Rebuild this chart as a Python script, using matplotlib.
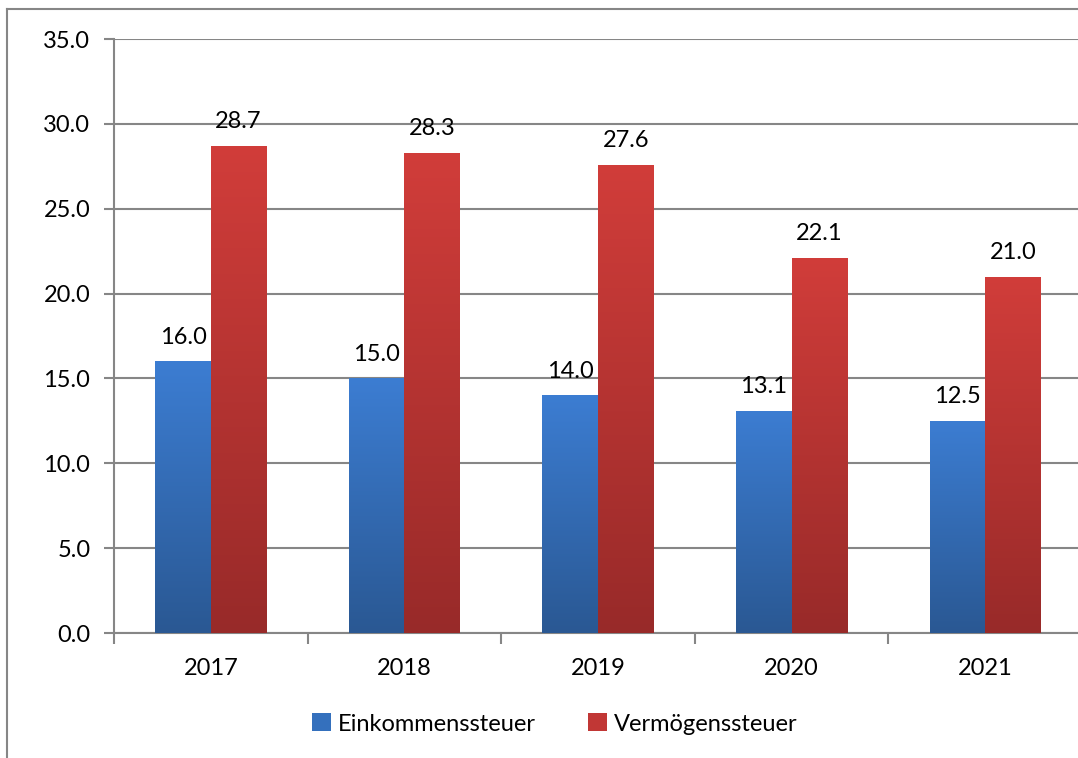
import matplotlib.pyplot as plt
import numpy as np
from matplotlib.colors import LinearSegmentedColormap
from matplotlib.lines import Line2D
from matplotlib.patches import Patch

plt.rcParams['font.family'] = ['Lato', 'DejaVu Sans']

years = ['2017', '2018', '2019', '2020', '2021']
einkommen = [16.0, 15.0, 14.0, 13.1, 12.5]
vermoegen = [28.7, 28.3, 27.6, 22.1, 21.0]

grid_col = '#868686'
blue_top, blue_bot = '#3c7dd2', '#2a5893'
red_top, red_bot = '#d13d3a', '#982a29'

fig = plt.figure(figsize=(10.78, 7.58), dpi=100)
ax = fig.add_axes([114 / 1078, 1 - 633 / 758, 968 / 1078, 594 / 758])

x = np.arange(len(years))
w = 0.287


def gradient_bars(xpos, vals, top, bot):
    bars = ax.bar(xpos, vals, w, color='none', zorder=3)
    cmap = LinearSegmentedColormap.from_list('g', [bot, top])
    grad = np.linspace(0, 1, 256).reshape(-1, 1)
    for b in bars:
        x0, h = b.get_x(), b.get_height()
        # stretch gradient to each bar's full height
        im = ax.imshow(grad, cmap=cmap, origin='lower', aspect='auto',
                       extent=(x0, x0 + b.get_width(), 0, h), zorder=3)
        im.set_clip_path(b)
    return bars


b1 = gradient_bars(x - w / 2, einkommen, blue_top, blue_bot)
b2 = gradient_bars(x + w / 2, vermoegen, red_top, red_bot)

for bars, vals in [(b1, einkommen), (b2, vermoegen)]:
    for b, v in zip(bars, vals):
        ax.annotate(f'{v:.1f}', (b.get_x() + b.get_width() / 2, v),
                    xytext=(0, 10), textcoords='offset points',
                    ha='center', va='bottom', fontsize=17, color='black')

ax.set_xlim(-0.5, len(years) - 0.5)
ax.set_ylim(0, 35)
ax.set_yticks(np.arange(0, 35.1, 5))
ax.set_yticklabels([f'{v:.1f}' for v in np.arange(0, 35.1, 5)])
ax.yaxis.grid(True, color=grid_col, linewidth=1.5, zorder=0)
ax.set_axisbelow(True)

ax.set_xticks(x)
ax.set_xticklabels(years)
ax.set_xticks(np.arange(-0.5, len(years)), minor=True)
ax.tick_params(axis='x', which='major', length=0, pad=18, labelsize=17)
ax.tick_params(axis='x', which='minor', length=8, width=1.5, color=grid_col)
ax.tick_params(axis='y', length=7, width=1.5, color=grid_col, pad=10,
               labelsize=17)

for s in ['top', 'right']:
    ax.spines[s].set_visible(False)
for s in ['left', 'bottom']:
    ax.spines[s].set_color(grid_col)
    ax.spines[s].set_linewidth(1.5)

handles = [Patch(facecolor='#3470bd', label='Einkommenssteuer'),
           Patch(facecolor='#c13735', label='Vermögenssteuer')]
fig.legend(handles=handles, loc='center', bbox_to_anchor=(555 / 1078, 1 - 724 / 758),
           ncol=2, frameon=False, fontsize=17, handlelength=0.8, handleheight=0.8,
           handletextpad=0.3, columnspacing=2.2)

# outer chart frame (left and top edges visible)
fig.add_artist(Line2D([7 / 1078, 7 / 1078], [0, 1 - 9 / 758], color=grid_col,
                      linewidth=1.5, transform=fig.transFigure))
fig.add_artist(Line2D([7 / 1078, 1], [1 - 9 / 758, 1 - 9 / 758], color=grid_col,
                      linewidth=1.5, transform=fig.transFigure))

fig.savefig('out.png', dpi=100)
